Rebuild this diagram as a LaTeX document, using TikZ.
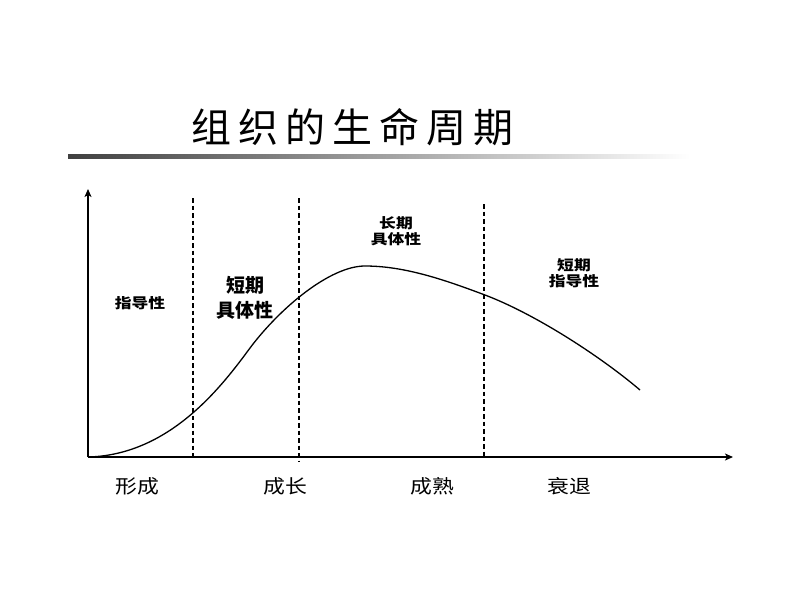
\documentclass[tikz,border=0pt]{standalone}
\usepackage{fontspec}
\usepackage{graphicx}
\newfontfamily\cjk{Noto Sans CJK SC}
\usetikzlibrary{arrows.meta}
\newcommand{\widetxt}[2][1.2]{\scalebox{#1}[1]{#2}}
\begin{document}
\begin{tikzpicture}[x=1pt,y=-1pt,
  lbl/.style={font=\cjk\bfseries\fontsize{14}{16.5}\selectfont, align=center, inner sep=0pt},
  lblbig/.style={font=\cjk\bfseries\fontsize{19}{24.5}\selectfont, align=center, inner sep=0pt},
  axlbl/.style={font=\cjk\fontsize{19}{22}\selectfont, inner sep=0pt},
  divider/.style={line width=1.2pt, dash pattern=on 4.5pt off 3pt},
  axis/.style={line width=1.4pt, -{Stealth[length=8pt,width=7pt,inset=2pt]}}]
\useasboundingbox[fill=white] (0,0) rectangle (800,600);
% title
\node[font=\cjk\fontsize{40}{44}\selectfont, inner sep=0pt] (title) at (352,127)
  {组\hspace{7pt}织\hspace{7pt}的\hspace{7pt}生\hspace{7pt}命\hspace{7pt}周\hspace{7pt}期};
\shade[left color=black!75, right color=white] (68,154) rectangle (690,158.5);
% axes
\coordinate (O) at (88,457);
\coordinate (ytop) at (88,189);
\coordinate (xend) at (733,457);
\draw[axis] (O) -- (ytop);
\draw[axis] (O) -- (xend);
% dividers
\draw[divider] (193,198) -- (193,458);
\draw[divider] (299,198) -- (299,462);
\draw[divider] (484,204) -- (484,458);
% curve
\draw[line width=1.3pt] (88,457) .. controls (170,455) and (222,386) .. (250,348)
  .. controls (280,308) and (330,266) .. (365,266)
  .. controls (405,266) and (445,280) .. (485,295)
  .. controls (535,314) and (600,356) .. (640,390);
% labels
\node[lbl] (l1) at (140,303) {\widetxt{指导性}};
\node[lblbig] (l2) at (245,298) {短期\\具体性};
\node[lbl] (l3) at (396,231) {\widetxt{长期}\\\widetxt{具体性}};
\node[lbl] (l4) at (574,273) {\widetxt{短期}\\\widetxt{指导性}};
\node[axlbl] (a1) at (137,486) {\widetxt[1.15]{形成}};
\node[axlbl] (a2) at (285,486) {\widetxt[1.15]{成长}};
\node[axlbl] (a3) at (432,486) {\widetxt[1.15]{成熟}};
\node[axlbl] (a4) at (569,486) {\widetxt[1.15]{衰退}};
\end{tikzpicture}
\end{document}
